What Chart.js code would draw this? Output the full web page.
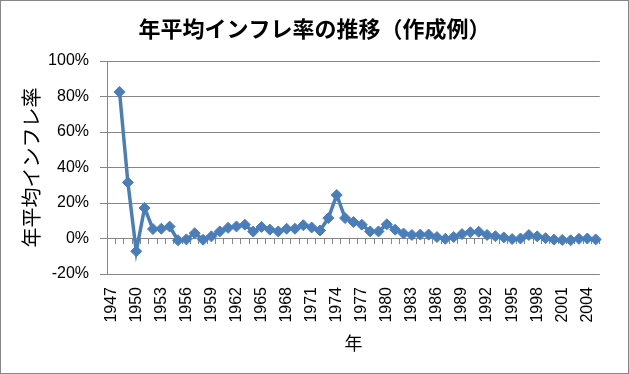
<!DOCTYPE html>
<html lang="ja">
<head>
    <meta charset="UTF-8">
    <title>年平均インフレ率の推移</title>
    <script src="https://cdn.jsdelivr.net/npm/chart.js"></script>
    <style>
        html, body { margin: 0; padding: 0; background: #fff; }
        #chartContainer {
            position: absolute;
            left: 0; top: 0;
            width: 629px; height: 374px;
            box-sizing: border-box;
            border: 1px solid #868686;
        }
    </style>
</head>
<body>
    <div id="chartContainer">
        <canvas id="inflationChart" width="627" height="372"></canvas>
    </div>
    <script>
        // years 1947-2005 (1947 has no value)
        const years = [];
        for (let y = 1947; y <= 2005; y++) years.push(String(y));

        const inflation = [
            null, 82.6, 31.6, -7.2, 17.2, 5.3, 5.5, 6.7, -1.0, -0.5,
            3.0, -0.7, 1.2, 4.0, 6.0, 6.8, 7.8, 3.9, 6.5, 5.0,
            4.0, 5.5, 5.5, 7.5, 6.2, 4.5, 11.5, 24.5, 11.5, 9.3,
            7.8, 4.0, 4.0, 8.0, 5.0, 2.8, 2.0, 2.2, 2.2, 0.8,
            -0.2, 0.8, 2.5, 3.5, 3.8, 2.0, 1.3, 0.6, -0.3, 0.0,
            2.0, 1.2, 0.2, -0.6, -0.8, -1.0, -0.2, 0.0, -0.5
        ];

        const yTicks = [-20, 0, 20, 40, 60, 80, 100];

        const gray = '#868686';
        const blue = '#4A7EBB';
        const jpFont = "'Noto Sans CJK JP', sans-serif";
        const numFont = "'Liberation Sans', Arial, sans-serif";

        const ctx = document.getElementById('inflationChart').getContext('2d');
        new Chart(ctx, {
            type: 'line',
            data: {
                labels: years,
                datasets: [{
                    data: inflation,
                    borderColor: blue,
                    backgroundColor: blue,
                    borderWidth: 3.5,
                    tension: 0,
                    pointStyle: 'rectRot',
                    pointRadius: 5.5,
                    pointBorderWidth: 1,
                    pointBackgroundColor: blue,
                    pointBorderColor: blue
                }]
            },
            options: {
                responsive: false,
                animation: false,
                layout: { padding: 0 },
                plugins: {
                    legend: { display: false },
                    tooltip: { enabled: false },
                    title: {
                        display: true,
                        text: '年平均インフレ率の推移（作成例）',
                        color: '#000',
                        font: { family: jpFont, size: 22, weight: 'bold' },
                        padding: { top: 14.8, bottom: 18.8 }
                    }
                },
                scales: {
                    x: {
                        type: 'category',
                        offset: true,
                        grid: { display: false, drawTicks: false },
                        border: { display: false },
                        ticks: {
                            autoSkip: false,
                            minRotation: 90,
                            maxRotation: 90,
                            padding: 13,
                            color: '#000',
                            font: { family: numFont, size: 16 },
                            callback: function (val, idx) {
                                return idx % 3 === 0 ? this.getLabelForValue(val) : '';
                            }
                        },
                        title: {
                            display: true,
                            text: '年',
                            color: '#000',
                            font: { family: jpFont, size: 18 },
                            padding: { top: 0, bottom: 18.7 }
                        },
                        afterFit: s => { s.height = 99; }
                    },
                    xZero: {
                        type: 'category',
                        position: { y: 0 },
                        offset: true,
                        grid: {
                            offset: true,
                            drawOnChartArea: false,
                            drawTicks: true,
                            tickLength: 5,
                            color: gray
                        },
                        border: { display: true, color: gray, width: 1 },
                        ticks: { display: false, autoSkip: false }
                    },
                    y: {
                        min: yTicks[0],
                        max: yTicks[yTicks.length - 1],
                        afterBuildTicks: s => { s.ticks = yTicks.map(v => ({ value: v })); },
                        grid: { color: gray, drawTicks: true, tickLength: 7 },
                        border: { display: true, color: gray },
                        ticks: {
                            padding: 11,
                            color: '#000',
                            font: { family: numFont, size: 16 },
                            callback: v => v + '%'
                        },
                        title: {
                            display: true,
                            text: '年平均インフレ率',
                            color: '#000',
                            font: { family: jpFont, size: 20 },
                            padding: { top: 18, bottom: 0 }
                        },
                        afterFit: s => { s.width = 106; }
                    },
                    // empty right margin so the title stays centred on the whole chart
                    yRight: {
                        position: 'right',
                        grid: { display: false },
                        border: { display: false },
                        ticks: { display: false },
                        afterFit: s => { s.width = 15; }
                    }
                }
            }
        });
    </script>
</body>
</html>
